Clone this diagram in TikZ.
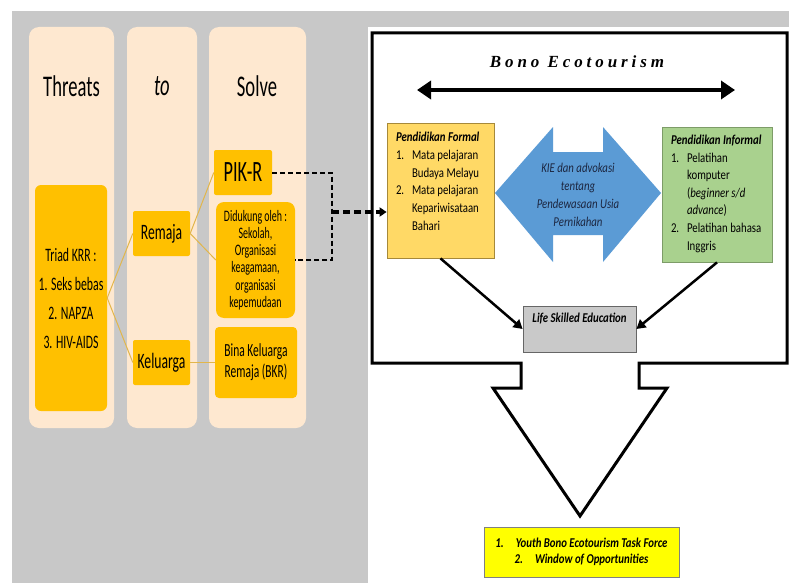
\documentclass[tikz,border=0pt]{standalone}
\usepackage{fontspec}
\setmainfont{Carlito}
\newfontfamily\tallfont[FakeStretch=0.62]{Carlito}
\newfontfamily\narrowfont[FakeStretch=0.8]{Carlito}
\newfontfamily\spacedfont[LetterSpace=23]{Liberation Serif}
\usepackage{tikz}
\usetikzlibrary{arrows.meta,calc}
\definecolor{greybg}{HTML}{C8C8C8}
\definecolor{beige}{HTML}{FEE8D0}
\definecolor{amber}{HTML}{FFC000}
\definecolor{gold}{HTML}{E2B64A}
\definecolor{formalfill}{HTML}{FFD966}
\definecolor{formaldraw}{HTML}{A6893A}
\definecolor{informalfill}{HTML}{A9D18E}
\definecolor{informaldraw}{HTML}{7D9C68}
\definecolor{kieblue}{HTML}{5B9BD5}
\definecolor{kietext}{HTML}{1C2640}
\definecolor{lsefill}{HTML}{C9C9C9}
\definecolor{outfill}{HTML}{FFFF00}
\newcommand{\numb}[1]{\makebox[16pt][l]{#1}}
\tikzset{
    column/.style={fill=beige, rounded corners=10pt},
    head/.style={font=\tallfont\fontsize{30}{30}\selectfont},
    krr/.style={fill=amber, align=center, inner sep=0pt, rounded corners=2pt,
        font=\tallfont\fontsize{19}{29}\selectfont},
    link/.style={draw=gold, line width=1pt},
    dashlink/.style={line width=2pt, dash pattern=on 5pt off 3pt},
    bigdash/.style={line width=3.5pt, dash pattern=on 7pt off 4pt,
        -{Triangle[length=7pt,width=9pt]}},
    edu/.style={inner xsep=9pt, inner ysep=8pt, line width=0.8pt,
        font=\narrowfont\fontsize{13.5}{17.6}\selectfont},
    kie/.style={align=center, text=kietext,
        font=\narrowfont\itshape\fontsize{13.5}{18}\selectfont},
    feed/.style={line width=2.5pt, -{Triangle[length=9pt,width=10pt]}},
    result/.style={fill=outfill, draw=gray, line width=0.8pt, align=center,
        minimum width=195pt, minimum height=50pt,
        font=\narrowfont\bfseries\itshape\fontsize{13.5}{16}\selectfont}
}

\begin{document}
\begin{tikzpicture}[x=1pt, y=-1pt]
    \useasboundingbox (0,0) rectangle (789,583);
    \fill[greybg] (12,11) rectangle (789,583);
    \fill[white] (368,27) rectangle (789,583);

    \fill[column] (29,27) rectangle (114,428);
    \fill[column] (127,27) rectangle (197,428);
    \fill[column] (209,27) rectangle (306,428);

    \node (threats) [head] at (71.5,86) {Threats};
    \node (to) [head] at (162,86) {\itshape to};
    \node (solve) [head] at (257,86) {Solve};

    \node (triad) [krr, rounded corners=6pt, minimum width=72pt, minimum height=226pt]
        at (71,298) {Triad KRR :\\1. Seks bebas\\2. NAPZA\\3. HIV-AIDS};
    \node (remaja) [krr, minimum width=57pt, minimum height=45pt,
        font=\tallfont\fontsize{22}{22}\selectfont] at (161.5,233.5) {Remaja};
    \node (keluarga) [krr, minimum width=57pt, minimum height=45pt,
        font=\tallfont\fontsize{22}{22}\selectfont] at (161.5,362.5) {Keluarga};
    \node (pikr) [krr, minimum width=58pt, minimum height=45pt,
        font=\tallfont\fontsize{29.5}{30}\selectfont] at (243,172.5) {PIK-R};
    \node (dukung) [krr, rounded corners=8pt, minimum width=79pt, minimum height=116pt,
        font=\tallfont\fontsize{16}{17.3}\selectfont] at (255.5,260)
        {Didukung oleh :\\Sekolah,\\Organisasi\\keagamaan,\\organisasi\\kepemudaan};
    \node (bkr) [krr, rounded corners=4pt, minimum width=82pt, minimum height=71pt,
        font=\tallfont\fontsize{18.5}{21}\selectfont] at (256,362.5)
        {Bina Keluarga\\Remaja (BKR)};

    \path (triad.east) edge[link] (remaja.west);
    \path (triad.east) edge[link] (keluarga.west);
    \path (remaja.east) edge[link] (pikr.west);
    \path (remaja.east) edge[link] (dukung.west);
    \path (keluarga.east) edge[link] (bkr.west);

    \draw[line width=3pt] (372,33) -- (787,33) -- (787,363) -- (639,363) -- (639,388)
        -- (667,388) -- (580,516) -- (493,388) -- (521,388) -- (521,363) -- (372,363) -- cycle;

    \node (bono) at (577,62) {\spacedfont\bfseries\itshape\fontsize{17}{17}\selectfont Bono Ecotourism};
    \coordinate (left) at (417,90);
    \coordinate (right) at (735,90);
    \draw[line width=4pt, {Triangle[length=14pt,width=18pt]}-{Triangle[length=14pt,width=18pt]}]
        (left) -- (right);

    \fill[kieblue] (495,193) -- (553,127) -- (553,152) -- (603,152) -- (603,127) -- (661,193)
        -- (603,262) -- (603,235) -- (553,235) -- (553,262) -- cycle;
    \node (kie) [kie] at (578,195) {KIE dan advokasi\\tentang\\Pendewasaan Usia\\Pernikahan};

    \node (formal) [edu, fill=formalfill, draw=formaldraw] at (440.5,190.5)
        {\parbox[c][119pt][t]{89pt}{\raggedright\baselineskip=17.8pt
        \vspace*{1pt}\mbox{\bfseries\itshape Pendidikan Formal}\\
        \numb{1.}Mata pelajaran\\
        \numb{}Budaya Melayu\\
        \numb{2.}Mata pelajaran\\
        \numb{}Kepariwisataan\\
        \numb{}Bahari\par}};
    \node (informal) [edu, fill=informalfill, draw=informaldraw] at (717,194.5)
        {\parbox[c][119pt][t]{92pt}{\raggedright
        \mbox{\bfseries\itshape Pendidikan Informal}\\
        \numb{1.}Pelatihan\\
        \numb{}komputer\\
        \numb{}(\textit{beginner s/d}\\
        \numb{}\textit{advance})\\
        \numb{2.}\mbox{Pelatihan bahasa}\\
        \numb{}Inggris}};
    \node (lse) [edu, fill=lsefill, draw=gray!80!black, inner xsep=6pt, inner ysep=7pt]
        at (579.5,329) {\parbox[c][32pt][t]{101pt}{\centering\bfseries\itshape Life Skilled Education}};

    \path (formal.south) edge[feed] (lse.west);
    \path (informal.south) edge[feed] (lse.east);

    \coordinate (junction) at (332,212);
    \draw[dashlink] (pikr.east) -| (junction) |- (dukung.east);
    \draw[bigdash] (junction) -- (junction -| formal.west);

    \node (output) [result] at (581.5,552)
        {1.\hspace{12pt}Youth Bono Ecotourism Task Force\\2.\hspace{12pt}Window of Opportunities};
\end{tikzpicture}
\end{document}
